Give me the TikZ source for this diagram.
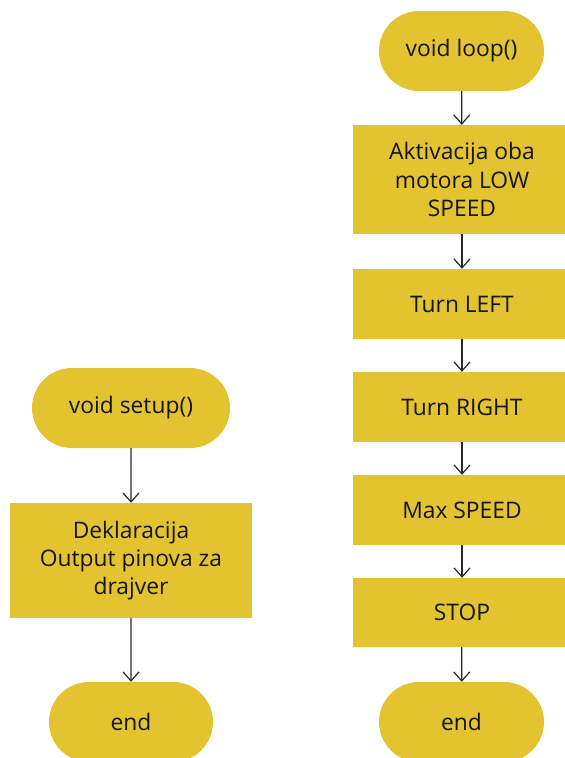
\documentclass[tikz,border=0pt]{standalone}
\usepackage{fontspec}
\setmainfont{Open Sans}
\usetikzlibrary{arrows.meta,shapes.misc}
\definecolor{flowyellow}{RGB}{227,196,48}
\definecolor{flowtext}{RGB}{20,20,20}
\definecolor{flowline}{RGB}{40,40,40}
\tikzset{
  x=1pt,y=-1pt,
  base/.style={fill=flowyellow,draw=none,inner sep=0pt,align=center,text=flowtext,
    font=\fontsize{22.8}{28.2}\selectfont},
  term/.style={base,rounded rectangle,minimum height=80pt},
  procbox/.style={base,rectangle,minimum height=70pt},
  conn/.style={draw=flowline,line width=1.2pt,-{Straight Barb[length=9pt,width=16pt,line width=1.2pt]}}
}
\begin{document}
\begin{tikzpicture}
\useasboundingbox (0,0) rectangle (565,758);
\clip (0,0) rectangle (565,758);
% left column
\node[term,minimum width=198pt] (setup) at (131,408) {void setup()};
\node[procbox,minimum width=242pt,minimum height=115pt] (decl) at (131,560.5) {Deklaracija\\Output pinova za\\drajver};
\node[term,minimum width=164pt] (end1) at (131,722) {end};
% right column
\node[term,minimum width=165pt] (loop) at (461.5,51) {void loop()};
\node[procbox,minimum width=218pt,minimum height=109pt] (akt) at (462,179.5) {Aktivacija oba\\motora LOW\\SPEED};
\node[procbox,minimum width=218pt] (left) at (462,304) {Turn LEFT};
\node[procbox,minimum width=218pt] (right) at (462,407) {Turn RIGHT};
\node[procbox,minimum width=218pt] (max) at (462,510) {Max SPEED};
\node[procbox,minimum width=218pt,minimum height=69pt] (stop) at (462,612.5) {STOP};
\node[term,minimum width=165pt] (end2) at (461.5,722) {end};
% connectors
\draw[conn] (setup) -- (decl);
\draw[conn] (decl) -- (end1);
\draw[conn] (loop) -- (akt);
\draw[conn] (akt) -- (left);
\draw[conn] (left) -- (right);
\draw[conn] (right) -- (max);
\draw[conn] (max) -- (stop);
\draw[conn] (stop) -- (end2);
\end{tikzpicture}
\end{document}
